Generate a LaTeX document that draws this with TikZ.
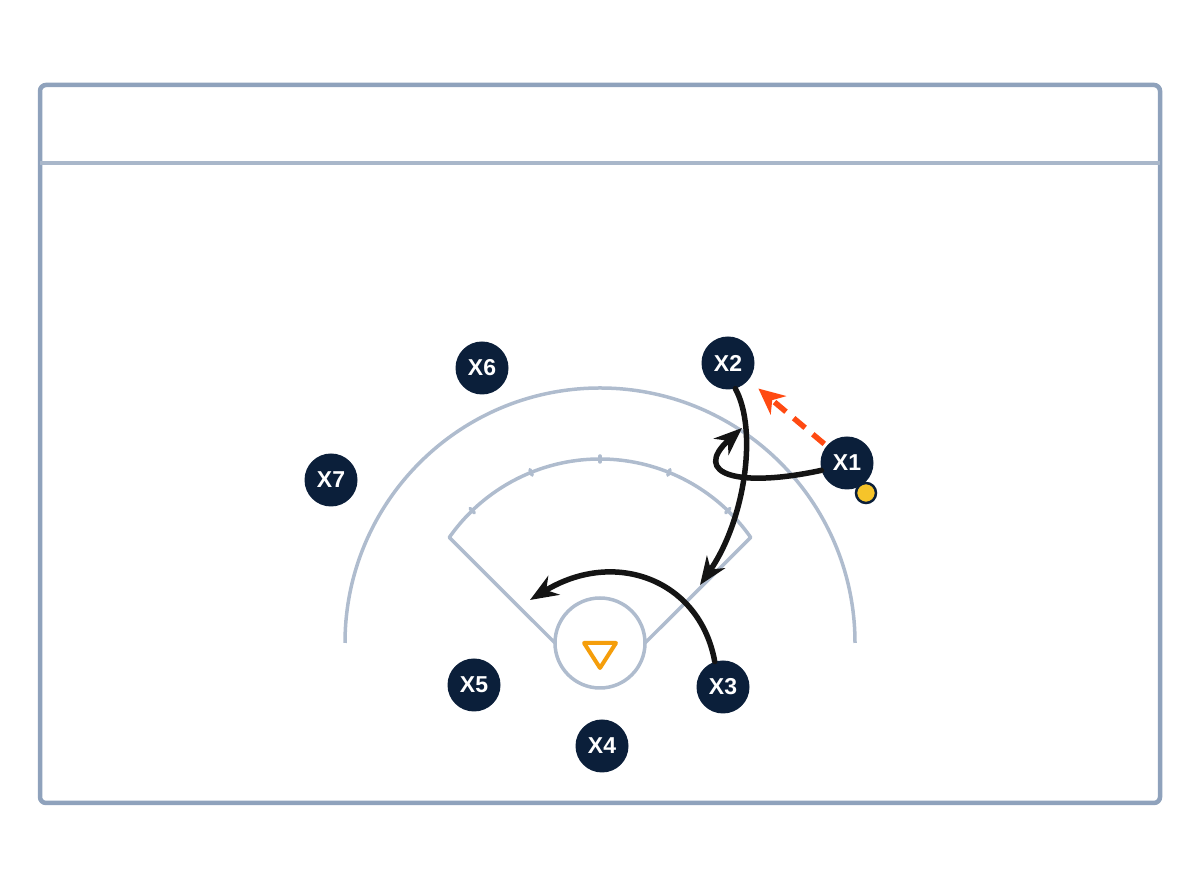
\documentclass[tikz,border=0pt]{standalone}
\usepackage{fontspec}
\setmainfont{Liberation Sans}
\usetikzlibrary{arrows.meta,calc}
\definecolor{navy}{HTML}{0B1F3A}
\definecolor{frame}{HTML}{8FA2BC}
\definecolor{hdr}{HTML}{A9B7CA}
\definecolor{field}{HTML}{AFBCCE}
\definecolor{goalc}{HTML}{F59E0B}
\definecolor{passc}{HTML}{FF4A12}
\definecolor{ballc}{HTML}{F6C42A}
\definecolor{runc}{HTML}{141414}
\tikzset{
  player/.style={circle,fill=navy,minimum size=53pt,inner sep=0pt,text=white,
    font=\fontsize{23}{25}\selectfont\bfseries},
  fieldline/.style={draw=field,line width=3.5pt},
  run/.style={draw=runc,line width=5.5pt,line cap=round,-{Stealth[length=28pt,width=22pt,inset=9pt]}},
  pass/.style={draw=passc,line width=5.5pt,dash pattern=on 15pt off 10pt,-{Stealth[length=26pt,width=24pt,inset=8pt]}},
}
\begin{document}
\begin{tikzpicture}[x=1pt,y=1pt]
\useasboundingbox (0,0) rectangle (1200,896);
% frame
\draw[frame,line width=4.5pt,rounded corners=6pt] (40,93) rectangle (1160,811);
\draw[hdr,line width=3.5pt] (40,733) -- (1160,733);
% field
\coordinate (gc) at (600,253);
\draw[fieldline] (345,253) arc[start angle=180,end angle=0,radius=255];
\draw[fieldline,line join=round] (555,253) -- ($(gc)+(145:184)$) arc[start angle=145,end angle=35,radius=184] -- (645,253);
\foreach \a in {46,68,90,112,134}{
  \draw[field,line width=3.5pt,line cap=round] ($(gc)+(\a:181)$) -- ($(gc)+(\a:187)$);
}
\node[circle,draw=field,line width=3.5pt,fill=white,minimum size=90pt,inner sep=0pt] (goal) at (gc) {};
\draw[goalc,line width=4pt,line join=round] (584,253) -- (616,253) -- (600,228) -- cycle;
% players
\node[player] (x6) at (482,528) {X6};
\node[player] (x2) at (728,533) {X2};
\node[player] (x7) at (331,416) {X7};
\node[player] (x1) at (847,433) {X1};
\node[player] (x5) at (474,211) {X5};
\node[player] (x3) at (723,209) {X3};
\node[player] (x4) at (602,150) {X4};
\node[circle,fill=ballc,draw=navy,line width=2.5pt,minimum size=20pt,inner sep=0pt] (ball) at (866,403) {};
% movements
\draw[pass,shorten >=13pt,shorten <=3pt] (x1) -- (x2);
\draw[run] (x2.-74) .. controls (758,466) and (745,376) .. (700,311);
\draw[run] (x1.196) .. controls (740,408) and (690,421) .. (742,468);
\draw[run] (x3.108) .. controls (700,316) and (615,348) .. (530,296);
\end{tikzpicture}
\end{document}
